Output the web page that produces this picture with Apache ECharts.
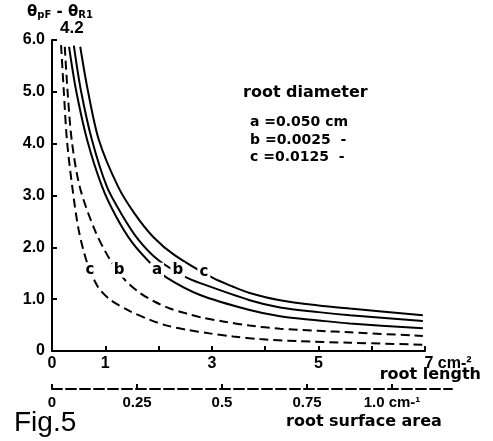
<!DOCTYPE html>
<html>
<head>
    <meta charset="utf-8">
    <title>Fig.5</title>
    <script src="https://cdn.jsdelivr.net/npm/echarts/dist/echarts.min.js"></script>
</head>
<body style="margin:0;background:#fff;">
<div id="chart-container" style="width: 493px; height: 441px;"></div>
<script>
    // curves: [root length, θ difference]
    var solidA = [[0.32, 5.87], [0.45, 5.04], [0.66, 4.07], [0.94, 3.17], [1.20, 2.60], [1.50, 2.10], [1.88, 1.66],
        [2.16, 1.41], [2.78, 1.08], [3.71, 0.79], [4.28, 0.67], [5.00, 0.59], [5.59, 0.53], [6.96, 0.44]];
    var solidB = [[0.41, 5.89], [0.54, 5.04], [0.75, 4.07], [1.03, 3.17], [1.30, 2.65], [1.62, 2.15], [2.00, 1.75],
        [2.50, 1.43], [2.78, 1.31], [3.71, 0.98], [4.28, 0.84], [5.00, 0.75], [5.59, 0.69], [6.96, 0.58]];
    var solidC = [[0.53, 5.87], [0.67, 5.04], [0.88, 4.07], [1.24, 3.17], [1.55, 2.65], [1.90, 2.20], [2.30, 1.85],
        [3.02, 1.41], [3.40, 1.24], [3.71, 1.12], [4.28, 0.98], [5.00, 0.88], [5.59, 0.82], [6.96, 0.69]];
    var dashB = [[0.24, 5.87], [0.29, 5.04], [0.37, 4.07], [0.52, 3.17], [0.80, 2.34], [1.09, 1.76], [1.37, 1.37],
        [1.65, 1.12], [1.93, 0.95], [2.21, 0.82], [2.53, 0.72], [2.83, 0.64], [3.21, 0.57], [3.71, 0.49],
        [4.28, 0.43], [5.00, 0.39], [5.59, 0.36], [6.96, 0.29]];
    var dashC = [[0.17, 5.90], [0.22, 5.04], [0.28, 4.07], [0.38, 3.17], [0.50, 2.34], [0.66, 1.70], [0.86, 1.24],
        [1.09, 0.99], [1.46, 0.77], [1.84, 0.60], [2.16, 0.49], [2.53, 0.41], [2.96, 0.34], [3.40, 0.28],
        [3.90, 0.23], [4.60, 0.19], [5.59, 0.16], [6.96, 0.12]];

    // letters written on the curves
    var curveTags = [[0.71, 1.56, 'c'], [1.26, 1.56, 'b'], [1.97, 1.56, 'a'], [2.36, 1.56, 'b'], [2.85, 1.53, 'c']];

    // tick labels
    var yTicks = [0, 1, 2, 3, 4, 5, 6];
    var lengthLabels = [0, 1, 3, 5, 7];
    var areaTicks = [0, 0.25, 0.5, 0.75, 1.0];
    var diameterLines = ['a =0.050 cm', 'b =0.0025  -', 'c =0.0125  -'];

    var FONT = '"DejaVu Sans", sans-serif';
    var NUM = '"Liberation Sans", Arial, sans-serif';
    var INK = '#000';

    function curve(data, dashed) {
        return {
            type: 'line',
            xAxisIndex: 0,
            yAxisIndex: 0,
            data: data,
            smooth: 0.3,
            symbol: 'none',
            silent: true,
            lineStyle: {color: INK, width: 2, type: dashed ? [9, 5] : 'solid'}
        };
    }

    var option = {
        animation: false,
        backgroundColor: '#fff',
        grid: [
            {left: 52, top: 40, width: 373, height: 311},
            {left: 52, top: 380, width: 400, height: 9}
        ],
        xAxis: [
            {
                gridIndex: 0, type: 'value', min: 0, max: 7, interval: 1,
                splitLine: {show: false},
                axisLine: {lineStyle: {color: INK, width: 2}},
                axisTick: {inside: true, length: 5, lineStyle: {color: INK, width: 2}},
                axisLabel: {
                    customValues: lengthLabels, margin: 5,
                    color: INK, fontFamily: NUM, fontWeight: 'bold', fontSize: 16,
                    formatter: function (v) { return v === 7 ? '{u|7 cm-²}' : String(v); },
                    rich: {u: {color: INK, fontFamily: NUM, fontWeight: 'bold', fontSize: 16, padding: [0, 0, 0, 46]}}
                }
            },
            {
                gridIndex: 1, type: 'value', min: 0, max: 400 / 340,
                splitLine: {show: false},
                axisLine: {lineStyle: {color: INK, width: 2, type: [10, 4]}},
                axisTick: {customValues: areaTicks, inside: true, length: 5, lineStyle: {color: INK, width: 2}},
                axisLabel: {
                    customValues: areaTicks, margin: 6,
                    color: INK, fontFamily: NUM, fontWeight: 'bold', fontSize: 15,
                    formatter: function (v) { return v === 1 ? '1.0 cm-¹' : String(v); }
                }
            }
        ],
        yAxis: [
            {
                gridIndex: 0, type: 'value', min: 0, max: 6, interval: 1,
                splitLine: {show: false},
                axisLine: {lineStyle: {color: INK, width: 2}},
                axisTick: {inside: true, length: 5, lineStyle: {color: INK, width: 2}},
                axisLabel: {
                    customValues: yTicks, margin: 7,
                    color: INK, fontFamily: NUM, fontWeight: 'bold', fontSize: 16,
                    formatter: function (v) { return v === 0 ? '0' : v.toFixed(1); }
                }
            },
            {gridIndex: 1, type: 'value', show: false}
        ],
        series: [
            curve(solidA, false),
            curve(solidB, false),
            curve(solidC, false),
            curve(dashB, true),
            curve(dashC, true),
            {
                type: 'scatter',
                xAxisIndex: 0,
                yAxisIndex: 0,
                z: 5,
                symbolSize: 0,
                silent: true,
                itemStyle: {color: INK, opacity: 1},
                data: curveTags,
                label: {
                    show: true, position: 'inside',
                    formatter: function (p) { return p.value[2]; },
                    color: INK, opacity: 1, textBorderWidth: 0,
                    fontFamily: FONT, fontWeight: 'bold', fontSize: 15,
                    backgroundColor: '#fff', padding: [0, 2]
                }
            }
        ],
        graphic: [
            {
                type: 'text', left: 27, top: 5,
                style: {
                    text: '{t|θ}{s|pF}{t| - θ}{s|R1}',
                    rich: {
                        t: {fontFamily: FONT, fontWeight: 'bold', fontSize: 15, fill: INK},
                        s: {fontFamily: FONT, fontWeight: 'bold', fontSize: 10, fill: INK, padding: [6, 0, 0, 0]}
                    }
                }
            },
            {type: 'text', left: 60, top: 20, style: {text: '4.2', fontFamily: NUM, fontWeight: 'bold', fontSize: 17, fill: INK}},
            {type: 'text', left: 243, top: 85, style: {text: 'root diameter', fontFamily: FONT, fontWeight: 'bold', fontSize: 16, fill: INK}},
            {type: 'text', left: 250, top: 115, style: {text: diameterLines[0], fontFamily: FONT, fontWeight: 'bold', fontSize: 14, fill: INK}},
            {type: 'text', left: 250, top: 133, style: {text: diameterLines[1], fontFamily: FONT, fontWeight: 'bold', fontSize: 14, fill: INK}},
            {type: 'text', left: 250, top: 150, style: {text: diameterLines[2], fontFamily: FONT, fontWeight: 'bold', fontSize: 14, fill: INK}},
            {type: 'text', right: 12, top: 367, style: {text: 'root length', fontFamily: FONT, fontWeight: 'bold', fontSize: 16, fill: INK}},
            {type: 'text', left: 286, top: 414, style: {text: 'root surface area', fontFamily: FONT, fontWeight: 'bold', fontSize: 16, fill: INK}},
            {type: 'text', left: 14, top: 409, style: {text: 'Fig.5', fontFamily: '"Liberation Sans", sans-serif', fontSize: 28, fill: INK}}
        ]
    };

    var chart = echarts.init(document.getElementById('chart-container'));
    chart.setOption(option);
</script>
</body>
</html>
